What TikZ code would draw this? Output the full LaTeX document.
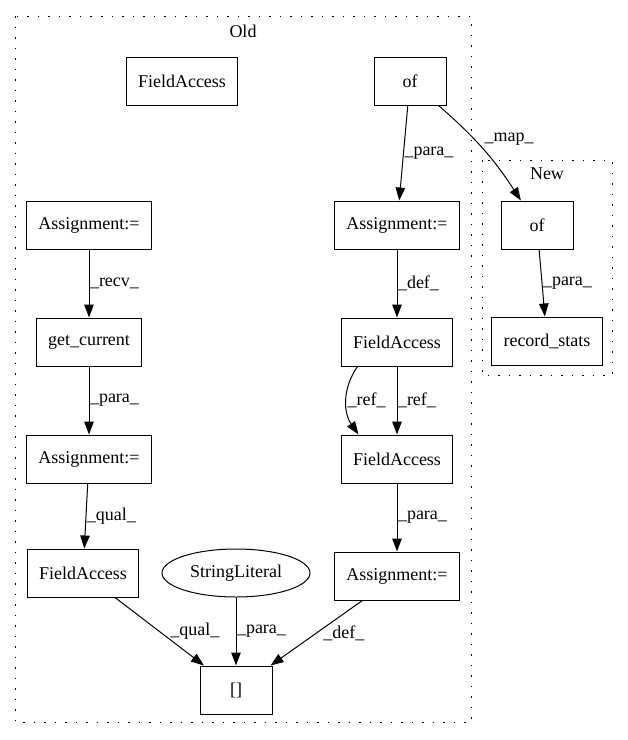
\documentclass[tikz,border=0pt]{standalone}
\usepackage{fontspec}
\setmainfont{Liberation Serif}
\usetikzlibrary{arrows.meta,positioning,shapes.geometric}
\newcommand{\gvfont}{\fontsize{18}{21}\selectfont}
\tikzset{>={Triangle[length=13pt,width=9.5pt]},node distance=68pt}
\tikzset{box/.style={draw,rectangle,minimum width=72pt,minimum height=48pt,inner xsep=12pt,font=\gvfont}}
\tikzset{oval/.style={draw,ellipse,minimum width=148pt,minimum height=48pt,inner sep=0pt,font=\gvfont}}
\tikzset{lbl/.style={anchor=west,inner sep=0.5pt,font=\gvfont}}
\tikzset{cluster/.style={draw,dash pattern=on 1.5pt off 9pt}}

\begin{document}
\begin{tikzpicture}[x=1pt,y=-1pt,line width=1pt]
    \useasboundingbox (0,0) rectangle (628,740);
    % clusters
    \draw[cluster] (15,16) rectangle (471,722);
    \node[font=\gvfont] (oldlbl) at (243,31) {Old};
    \draw[cluster] (482,160) rectangle (612,375);
    \node[font=\gvfont] (newlbl) at (547,174) {New};

    \node[box] (fa0) at (182,81) {FieldAccess};
    \node[box] (of0) at (410,81) {of};
    \node[box] (asg1) at (397,225) {Assignment:=};
    \node[box] (fa1) [below=of asg1] {FieldAccess};
    \node[box] (fa2) [below=of fa1] {FieldAccess};
    \node[box] (asg2) [below=of fa2] {Assignment:=};
    \node[box] (asg3) at (89,225) {Assignment:=};
    \node[box] (cur) [below=of asg3] {get\_current};
    \node[box] (asg4) [below=of cur] {Assignment:=};
    \node[box] (fa3) at (83,573) {FieldAccess};
    \node[oval] (str) at (236,573) {StringLiteral};
    \node[box] (idx) [below=of str] {[]};
    \node[box] (of1) at (537,225) {of};
    \node[box] (rec) at (547,341) {record\_stats};

    \path[->]
        (of0)  edge node[lbl] {\_para\_} (asg1)
        (of0)  edge[bend left=8] node[lbl,yshift=10pt] {\_map\_} (of1)
        (of1)  edge node[lbl] {\_para\_} (rec)
        (asg1) edge node[lbl] {\_def\_} (fa1)
        (fa1)  edge node[lbl] {\_ref\_} (fa2)
        ([xshift=17pt]fa1.south west) edge[out=235,in=125] node[lbl] {\_ref\_} ([xshift=18pt]fa2.north west)
        (fa2)  edge node[lbl] {\_para\_} (asg2)
        (asg3) edge node[lbl] {\_recv\_} (cur)
        (cur)  edge node[lbl] {\_para\_} (asg4)
        (asg4) edge node[lbl] {\_qual\_} (fa3)
        (fa3)  edge node[lbl,xshift=10pt] {\_qual\_} (idx)
        (str)  edge node[lbl] {\_para\_} (idx)
        (asg2) edge node[lbl,xshift=6pt] {\_def\_} (idx)
        ;
\end{tikzpicture}
\end{document}
